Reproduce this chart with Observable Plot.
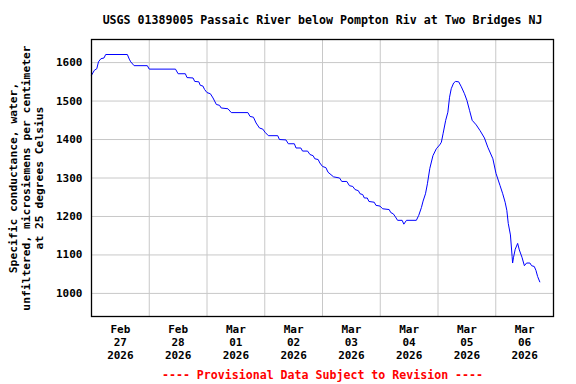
<!DOCTYPE html>
<html>
<head>
<meta charset="utf-8">
<script src="https://cdn.jsdelivr.net/npm/d3@7"></script>
<script src="https://cdn.jsdelivr.net/npm/@observablehq/plot@0.6"></script>
<style>
  html, body { margin: 0; padding: 0; background: #fff; }
  #chart svg { display: block; }
</style>
</head>
<body>
<div id="chart"></div>
<script>
// ---- data ----
const chartTitle = "USGS 01389005 Passaic River below Pompton Riv at Two Bridges NJ";
const yAxisLabel = "Specific conductance, water,\nunfiltered, microsiemens per centimeter\nat 25 degrees Celsius";
const caption = "---- Provisional Data Subject to Revision ----";

const startDate = "2026-02-27T00:00:00Z";
const endDate = "2026-03-07T00:00:00Z";

// hours since Feb 27 2026 00:00
const hours = [0,1.2,2.2,2.9,3.9,5.2,5.9,14.9,15.7,16.3,17.7,23.2,24,34.9,36,39,39.7,42.2,42.9,44.6,45.2,46.3,47,48,49.4,50.5,51.9,53.2,53.9,56.7,58.1,65,65.9,67.3,68.4,69.8,71.2,72.1,73.5,77.4,78.1,80.8,81.8,84.3,85,87,87.7,89.8,90.8,92.1,92.8,94.2,94.9,96,97.4,98.3,100.6,103.1,104,106.1,107.2,108.6,109.5,110.9,111.6,112.7,113.4,114.6,115.3,117.5,118.2,119.9,121,123.7,124.4,125.4,126.3,127.2,129.1,129.8,130.9,135,136,137.1,137.8,138.8,139.6,140.6,141.9,143.3,144.7,145.4,146.1,147.2,148.1,148.8,149.5,150.5,151.3,152.6,153.7,155,156,157.1,158.2,159.9,161.5,163.3,164.7,166.8,168.1,169.8,170.9,171.9,172.6,173.2,174.1,174.8,175,175.4,176.1,177.1,177.8,178.9,179.9,180.8,182.2,182.9,184,184.7,185.4,186.3];
const conductance = [1567,1580,1584,1602,1610,1612,1621,1621,1609,1602,1592,1592,1583,1583,1571,1571,1561,1560,1551,1550,1541,1539,1530,1522,1519,1508,1491,1489,1482,1480,1470,1470,1460,1458,1443,1430,1427,1419,1410,1410,1400,1399,1389,1389,1378,1378,1370,1370,1361,1358,1350,1348,1339,1330,1327,1315,1303,1300,1291,1291,1280,1278,1270,1267,1259,1257,1248,1248,1239,1237,1229,1227,1220,1218,1210,1207,1199,1190,1190,1180,1190,1190,1203,1223,1240,1259,1285,1325,1358,1376,1386,1393,1415,1450,1471,1510,1532,1547,1551,1550,1537,1519,1502,1476,1450,1438,1423,1404,1380,1350,1312,1280,1259,1237,1216,1182,1152,1096,1079,1094,1115,1130,1113,1094,1072,1079,1079,1072,1070,1060,1044,1030];

const yTicks = [1000, 1100, 1200, 1300, 1400, 1500, 1600];
const gridDays = ["2026-02-28","2026-03-01","2026-03-02","2026-03-03","2026-03-04","2026-03-05","2026-03-06"];
const tickDays = ["2026-02-27T12:00:00Z","2026-02-28T12:00:00Z","2026-03-01T12:00:00Z","2026-03-02T12:00:00Z","2026-03-03T12:00:00Z","2026-03-04T12:00:00Z","2026-03-05T12:00:00Z","2026-03-06T12:00:00Z"];
const tickLabels = ["Feb\n27\n2026","Feb\n28\n2026","Mar\n01\n2026","Mar\n02\n2026","Mar\n03\n2026","Mar\n04\n2026","Mar\n05\n2026","Mar\n06\n2026"];

// ---- build ----
const t0 = new Date(startDate).getTime();
const data = hours.map((h, i) => ({ time: new Date(t0 + h * 3600e3), value: conductance[i] }));
const gridDates = gridDays.map(d => new Date(d + "T00:00:00Z"));
const tickDates = tickDays.map(d => new Date(d));

const font = "'DejaVu Sans Mono', monospace";

const chart = Plot.plot({
  width: 576,
  height: 384,
  marginTop: 39,
  marginBottom: 68,
  marginLeft: 91,
  marginRight: 23,
  style: { fontFamily: font, fontWeight: "bold", background: "#fff", color: "#000" },
  x: { type: "utc", domain: [new Date(startDate), new Date(endDate)], label: null },
  y: { domain: [940, 1660], label: null },
  marks: [
    Plot.gridY(yTicks, { stroke: "#c8c8c8", strokeOpacity: 1, strokeWidth: 1 }),
    Plot.gridX(gridDates, { stroke: "#c8c8c8", strokeOpacity: 1, strokeWidth: 1 }),
    Plot.line(data, { x: "time", y: "value", stroke: "#0000ff", strokeWidth: 1 }),
    Plot.frame({ stroke: "#000", strokeWidth: 1.3 }),
    Plot.axisY(yTicks, {
      tickSize: 0, tickPadding: 9, fontSize: 11, fontWeight: "bold", fill: "#000",
      label: null, tickFormat: d => String(d)
    }),
    Plot.axisX(tickDates, {
      tickSize: 0, tickPadding: 7, fontSize: 11, fontWeight: "bold", fill: "#000",
      lineHeight: 1.2, label: null,
      tickFormat: (d, i) => tickLabels[i]
    }),
    Plot.text([yAxisLabel], {
      text: d => d, frameAnchor: "left", textAnchor: "middle", lineAnchor: "middle",
      rotate: -90, dx: -66,
      fontSize: 11.3, fontWeight: "bold", lineHeight: 1.17, fill: "#000"
    }),
    Plot.text([chartTitle], {
      text: d => d, frameAnchor: "top", lineAnchor: "middle", dy: -19,
      fontSize: 11.6, fontWeight: "bold", fill: "#000"
    }),
    Plot.text([caption], {
      text: d => d, frameAnchor: "bottom", lineAnchor: "middle", dy: 59,
      fontSize: 11.6, fontWeight: "bold", fill: "#ff0000"
    })
  ]
});

document.getElementById("chart").appendChild(chart);
</script>
</body>
</html>
